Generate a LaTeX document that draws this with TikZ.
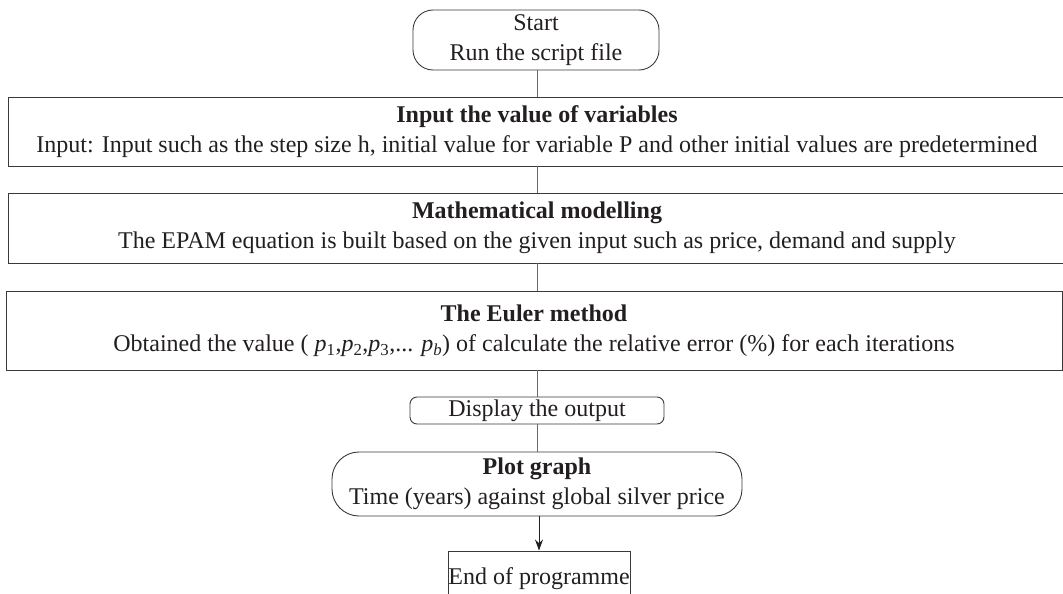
\documentclass[tikz,border=0pt]{standalone}
\usepackage{fontspec}
\setmainfont{Liberation Serif}
\usetikzlibrary{arrows.meta}
\definecolor{ink}{HTML}{231F20}
\definecolor{edge}{HTML}{3A3A3A}
\definecolor{conn}{HTML}{6A6A6A}
\tikzset{
  box/.style={draw=edge, line width=0.9pt, inner sep=0pt, align=center, text=ink,
    font=\fontsize{24}{30}\selectfont},
  link/.style={draw=conn, line width=0.9pt},
  arrowlink/.style={draw=ink, line width=0.9pt, -{Stealth[length=11pt,width=8pt]}},
}
\begin{document}
\begin{tikzpicture}[x=1pt,y=-1pt]
\useasboundingbox (0,0) rectangle (1063,594);
\node[box, rounded corners=20pt, minimum width=246pt, minimum height=60pt] (start) at (536,40)
  {Start\\Run the script file};
\node[box, minimum width=1058pt, minimum height=69pt] (input) at (537,131.5)
  {\textbf{Input the value of variables}\\Input: Input such as the step size h, initial value for variable P and other initial values are predetermined};
\node[box, minimum width=1058pt, minimum height=70pt] (math) at (537,228)
  {\textbf{Mathematical modelling}\\The EPAM equation is built based on the given input such as price, demand and supply};
\node[box, minimum width=1056pt, minimum height=79pt] (euler) at (534,330.5)
  {\textbf{The Euler method}\\Obtained the value ( \textit{p}\textsubscript{1},\textit{p}\textsubscript{2},\textit{p}\textsubscript{3},... \textit{p}\textsubscript{\textit{b}}) of calculate the relative error (\%) for each iterations};
\node[box, rounded corners=7pt, minimum width=254pt, minimum height=27pt] (display) at (537,410.5)
  {Display the output};
\node[box, rounded corners=27pt, minimum width=410pt, minimum height=64pt] (plot) at (537,484)
  {\textbf{Plot graph}\\Time (years) against global silver price};
\node[box, minimum width=182pt, minimum height=56pt] (endp) at (539,579)
  {End of programme};
\draw[link] (start.south -| display) -- (input.north -| display);
\draw[link] (input.south -| display) -- (math.north -| display);
\draw[link] (math.south -| display) -- (euler.north -| display);
\draw[link] (euler.south -| display) -- (display.north);
\draw[link] (display.south) -- (plot.north);
\draw[arrowlink] (plot.south -| endp) -- (endp.north);
\end{tikzpicture}
\end{document}
